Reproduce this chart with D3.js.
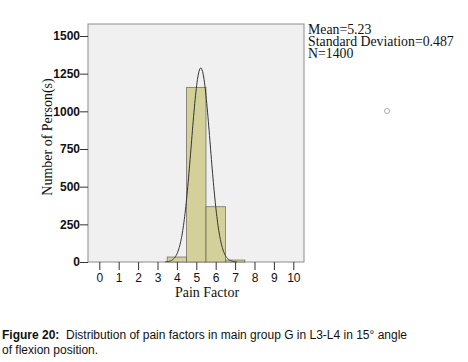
<!DOCTYPE html>
<html>
<head>
<meta charset="utf-8">
<script src="https://cdn.jsdelivr.net/npm/d3@7"></script>
<style>
  body { margin: 0; background: #fff; }
  svg { display: block; }
</style>
</head>
<body>
<div id="chart"></div>
<script>
// bins of width 1, centred on the pain factor
const binCenters = [4, 5, 6, 7]
const binCounts = [33, 1159, 367, 13]
const xTicks = [0, 1, 2, 3, 4, 5, 6, 7, 8, 9, 10]
const yTicks = [0, 250, 500, 750, 1000, 1250, 1500]
const statLines = ["Mean=5.23", "Standard Deviation=0.487", "N=1400"]
const mean = 5.23
const sd = 0.487

const width = 468
const height = 362
const box = { left: 88, right: 304, top: 24, bottom: 262 }

const svg = d3.select("#chart").append("svg")
    .attr("width", width)
    .attr("height", height)

const xScale = d3.scaleLinear()
  .domain([0, 10])
  .range([99.3, 293.3])

const yScale = d3.scaleLinear()
  .domain([0, 1500])
  .range([box.bottom, 36])

// plot background
svg.append("rect")
    .attr("x", box.left)
    .attr("y", box.top)
    .attr("width", box.right - box.left)
    .attr("height", box.bottom - box.top)
    .attr("fill", "#f0f0f0")
    .attr("stroke", "#8c8c8c")
    .attr("stroke-width", 1)

// bars
svg.append("g")
  .selectAll("rect")
  .data(binCenters)
  .join("rect")
    .attr("x", d => xScale(d - 0.5))
    .attr("y", (d, i) => yScale(binCounts[i]))
    .attr("width", d => xScale(d + 0.5) - xScale(d - 0.5))
    .attr("height", (d, i) => box.bottom - yScale(binCounts[i]))
    .attr("fill", "#d4d09a")
    .attr("stroke", "#5a5a50")
    .attr("stroke-opacity", 0.8)
    .attr("stroke-width", 0.8)

// normal curve scaled to the histogram
const total = d3.sum(binCounts)
const density = x => total / (sd * Math.sqrt(2 * Math.PI)) * Math.exp(-0.5 * ((x - mean) / sd) ** 2)
const curveX = d3.range(3.4, 7.1, 0.02)
const line = d3.line()
  .x(d => xScale(d))
  .y(d => yScale(density(d)))
  .curve(d3.curveBasis)

svg.append("path")
    .datum(curveX)
    .attr("d", line)
    .attr("fill", "none")
    .attr("stroke", "#333")
    .attr("stroke-width", 1)

// y axis
const yAxis = svg.append("g")
    .attr("transform", `translate(${box.left},0)`)
    .call(d3.axisLeft(yScale).tickValues(yTicks).tickFormat(d3.format("d")).tickSize(8).tickSizeOuter(0))
yAxis.select(".domain").remove()
yAxis.selectAll("line").attr("stroke", "#333")
yAxis.selectAll("text")
    .attr("font-family", "Liberation Sans, Arial, sans-serif")
    .attr("font-size", 12)
    .attr("font-weight", "bold")
    .attr("fill", "#111")
    .attr("x", -8)

// x axis
const xAxis = svg.append("g")
    .attr("transform", `translate(0,${box.bottom})`)
    .call(d3.axisBottom(xScale).tickValues(xTicks).tickSize(8).tickSizeOuter(0))
xAxis.select(".domain").remove()
xAxis.selectAll("line").attr("stroke", "#333")
xAxis.selectAll("text")
    .attr("font-family", "Liberation Sans, Arial, sans-serif")
    .attr("font-size", 12)
    .attr("fill", "#111")
    .attr("y", 11)

// axis titles
svg.append("text")
    .attr("x", 207)
    .attr("y", 297)
    .attr("text-anchor", "middle")
    .attr("font-family", "Liberation Serif, Times New Roman, serif")
    .attr("font-size", 14)
    .attr("fill", "#111")
    .text("Pain Factor")

svg.append("text")
    .attr("transform", "translate(52,137) rotate(-90)")
    .attr("text-anchor", "middle")
    .attr("font-family", "Liberation Serif, Times New Roman, serif")
    .attr("font-size", 14)
    .attr("fill", "#111")
    .text("Number of Person(s)")

// statistics
svg.append("g")
  .selectAll("text")
  .data(statLines)
  .join("text")
    .attr("x", 308)
    .attr("y", (d, i) => 34 + i * 12.2)
    .attr("font-family", "Liberation Serif, Times New Roman, serif")
    .attr("font-size", 13.8)
    .attr("fill", "#111")
    .text(d => d)

// small marker circle
svg.append("circle")
    .attr("cx", 387)
    .attr("cy", 111)
    .attr("r", 2.5)
    .attr("fill", "none")
    .attr("stroke", "#aaa")

// caption
const caption = svg.append("text")
    .attr("font-family", "Liberation Sans, Arial, sans-serif")
    .attr("font-size", 12)
    .attr("fill", "#111")
caption.append("tspan")
    .attr("x", 2)
    .attr("y", 339)
    .attr("font-weight", "bold")
    .text("Figure 20:")
caption.append("tspan")
    .text("\u00a0 Distribution of pain factors in main group G in L3-L4 in 15° angle")
caption.append("tspan")
    .attr("x", 2)
    .attr("y", 354)
    .text("of flexion position.")
</script>
</body>
</html>
